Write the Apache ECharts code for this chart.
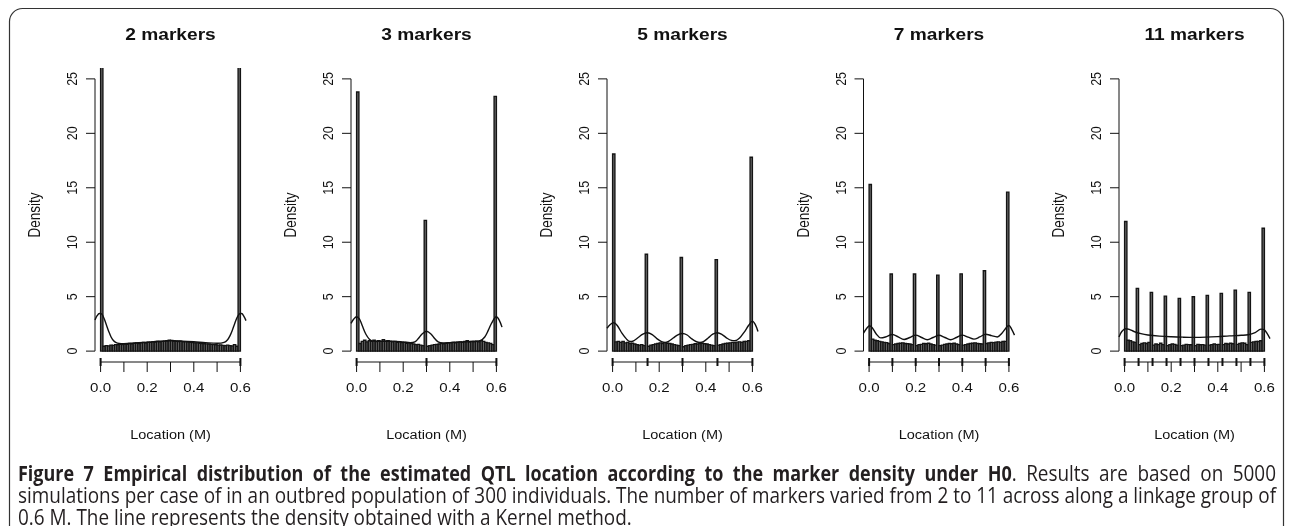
<!DOCTYPE html>
<html>
<head>
<meta charset="utf-8">
<script src="https://cdn.jsdelivr.net/npm/echarts@6/dist/echarts.min.js"></script>
<style>
  html, body { margin: 0; padding: 0; background: #fff; }
  #chart { width: 1292px; height: 526px; }
</style>
</head>
<body>
<div id="chart"></div>
<script>
// ---- panel titles and marker positions (M) ----
const panelTitles = ['2 markers', '3 markers', '5 markers', '7 markers', '11 markers'];
const markers2 = [0, 0.6];
const markers3 = [0, 0.3, 0.6];
const markers5 = [0, 0.15, 0.3, 0.45, 0.6];
const markers7 = [0, 0.1, 0.2, 0.3, 0.4, 0.5, 0.6];
const markers11 = [0, 0.06, 0.12, 0.18, 0.24, 0.3, 0.36, 0.42, 0.48, 0.54, 0.6];

// ---- axis ticks ----
const xTicks = [0, 0.1, 0.2, 0.3, 0.4, 0.5, 0.6];
const xTickLabels = ['0.0', '0.2', '0.4', '0.6'];
const xLabelPos = [0, 0.2, 0.4, 0.6];
const yTicks = [0, 5, 10, 15, 20, 25];

// ---- histogram densities, 60 bins of width 0.01 over [0, 0.6] ----
const binWidth = 0.01;
const hist2 = [28.3,
  0.45, 0.5, 0.48, 0.55, 0.52, 0.6, 0.58, 0.62, 0.6,
  0.65, 0.63, 0.7, 0.68, 0.72, 0.75, 0.7, 0.78, 0.8, 0.76,
  0.82, 0.8, 0.85, 0.83, 0.88, 0.86, 0.9, 0.92, 0.95, 1.0,
  0.98, 0.93, 0.9, 0.88, 0.9, 0.86, 0.85, 0.82, 0.8, 0.78,
  0.76, 0.75, 0.72, 0.7, 0.68, 0.66, 0.65, 0.62, 0.6, 0.58,
  0.55, 0.56, 0.52, 0.5, 0.55, 0.5, 0.48, 0.6, 0.45,
  28.1];
const hist3 = [23.8,
  0.7, 0.9, 1.0, 0.85, 0.95, 0.9, 1.0, 0.88, 0.95,
  0.9, 1.05, 0.92, 0.95, 0.9, 0.85, 0.9, 0.8, 0.85, 0.78,
  0.8, 0.72, 0.75, 0.7, 0.65, 0.6, 0.62, 0.55, 0.5,
  12.0,
  0.45, 0.5, 0.55, 0.6, 0.62, 0.65, 0.7, 0.68, 0.72, 0.75,
  0.78, 0.8, 0.76, 0.82, 0.85, 0.8, 0.88, 0.95, 0.85, 0.9,
  0.88, 0.92, 0.85, 0.95, 0.9, 0.8, 0.75, 0.7, 0.6,
  23.4];
const hist5 = [18.1,
  0.85, 0.9, 0.8, 0.88, 0.75, 0.8, 0.7, 0.72, 0.65, 0.6, 0.55, 0.6, 0.5,
  8.9,
  0.45, 0.55, 0.6, 0.65, 0.7, 0.75, 0.7, 0.78, 0.72, 0.7, 0.65, 0.6, 0.55, 0.5,
  8.6,
  0.4, 0.5, 0.55, 0.6, 0.62, 0.68, 0.65, 0.7, 0.72, 0.68, 0.65, 0.6, 0.55, 0.5,
  8.4,
  0.55, 0.6, 0.65, 0.7, 0.72, 0.75, 0.8, 0.78, 0.82, 0.85, 0.8, 0.88, 0.9, 0.95,
  17.8];
const hist7 = [15.3,
  1.1, 1.0, 0.95, 0.9, 0.85, 0.8, 0.78, 0.7,
  7.08,
  0.6, 0.65, 0.7, 0.72, 0.75, 0.7, 0.68, 0.65, 0.6,
  7.08,
  0.5, 0.6, 0.62, 0.7, 0.68, 0.72, 0.65, 0.6, 0.55,
  6.98,
  0.5, 0.55, 0.62, 0.65, 0.7, 0.68, 0.72, 0.65, 0.6,
  7.1,
  0.55, 0.6, 0.65, 0.7, 0.72, 0.75, 0.7, 0.68, 0.65,
  7.38,
  0.7, 0.75, 0.8, 0.78, 0.82, 0.85, 0.8, 0.88, 0.9,
  14.6];
const hist11 = [11.9,
  1.0, 0.95, 0.85, 0.8,
  5.76,
  0.6, 0.7, 0.75, 0.7, 0.8,
  5.39,
  0.55, 0.65, 0.6, 0.72, 0.6,
  5.05,
  0.5, 0.6, 0.65, 0.62, 0.55,
  4.84,
  0.5, 0.55, 0.62, 0.6, 0.58,
  4.99,
  0.5, 0.62, 0.58, 0.6, 0.55,
  5.12,
  0.55, 0.6, 0.65, 0.6, 0.62,
  5.3,
  0.6, 0.7, 0.65, 0.72, 0.68,
  5.6,
  0.62, 0.7, 0.75, 0.72, 0.6,
  5.39,
  0.8, 0.85, 0.9, 0.88, 0.95,
  11.28];

// ---- kernel density curves, [location, density] ----
const dens2 = [[-0.024, 2.85], [-0.015, 3.25], [-0.005, 3.45], [0.005, 3.4], [0.015, 3.0], [0.025, 2.4],
  [0.035, 1.8], [0.045, 1.3], [0.055, 0.98], [0.065, 0.8], [0.08, 0.7], [0.1, 0.68], [0.15, 0.74],
  [0.2, 0.82], [0.25, 0.9], [0.3, 0.95], [0.35, 0.92], [0.4, 0.86], [0.45, 0.78], [0.5, 0.72],
  [0.53, 0.8], [0.545, 1.05], [0.555, 1.4], [0.565, 1.9], [0.575, 2.5], [0.585, 3.05], [0.595, 3.4],
  [0.605, 3.45], [0.615, 3.2], [0.624, 2.8]];
const dens3 = [[-0.024, 2.55], [-0.012, 2.95], [0, 3.15], [0.012, 2.95], [0.025, 2.3], [0.04, 1.55],
  [0.055, 1.1], [0.07, 0.92], [0.1, 0.9], [0.15, 0.92], [0.2, 0.85], [0.23, 0.78], [0.25, 0.85],
  [0.265, 1.15], [0.28, 1.55], [0.3, 1.82], [0.32, 1.55], [0.335, 1.15], [0.35, 0.85], [0.37, 0.75],
  [0.4, 0.78], [0.45, 0.85], [0.5, 0.88], [0.53, 0.95], [0.55, 1.3], [0.565, 1.9], [0.58, 2.6],
  [0.6, 3.15], [0.612, 2.85], [0.624, 2.2]];
const dens5 = [[-0.024, 2.1], [-0.01, 2.45], [0.005, 2.6], [0.02, 2.35], [0.04, 1.65], [0.06, 1.1],
  [0.075, 0.88], [0.09, 0.95], [0.11, 1.25], [0.13, 1.55], [0.15, 1.68], [0.17, 1.52], [0.19, 1.15],
  [0.21, 0.88], [0.225, 0.8], [0.24, 0.9], [0.26, 1.2], [0.28, 1.5], [0.3, 1.62], [0.32, 1.48],
  [0.34, 1.12], [0.36, 0.86], [0.375, 0.8], [0.39, 0.88], [0.41, 1.2], [0.43, 1.55], [0.45, 1.68],
  [0.47, 1.52], [0.49, 1.2], [0.51, 0.98], [0.525, 0.95], [0.545, 1.2], [0.565, 1.75], [0.585, 2.4],
  [0.6, 2.75], [0.612, 2.45], [0.624, 1.8]];
const dens7 = [[-0.024, 1.65], [-0.01, 2.1], [0.002, 2.33], [0.015, 2.1], [0.03, 1.6], [0.05, 1.22],
  [0.07, 1.3], [0.1, 1.53], [0.125, 1.3], [0.15, 1.07], [0.175, 1.25], [0.2, 1.47], [0.225, 1.25],
  [0.25, 1.05], [0.275, 1.25], [0.3, 1.45], [0.325, 1.25], [0.35, 1.05], [0.375, 1.25], [0.4, 1.47],
  [0.425, 1.28], [0.45, 1.1], [0.475, 1.3], [0.5, 1.55], [0.525, 1.42], [0.55, 1.3], [0.57, 1.65],
  [0.59, 2.2], [0.6, 2.35], [0.612, 2.0], [0.624, 1.47]];
const dens11 = [[-0.024, 1.3], [-0.012, 1.8], [0.005, 2.05], [0.02, 2.0], [0.04, 1.8], [0.07, 1.6],
  [0.1, 1.48], [0.15, 1.38], [0.2, 1.32], [0.25, 1.28], [0.3, 1.26], [0.35, 1.28], [0.4, 1.33],
  [0.45, 1.4], [0.5, 1.45], [0.53, 1.5], [0.56, 1.7], [0.585, 2.02], [0.6, 1.95], [0.612, 1.6],
  [0.624, 1.15]];

// ---- caption ----
const captionBold = 'Figure 7 Empirical distribution of the estimated QTL location according to the marker density under H0';
const captionTail = '. Results are based on 5000';
const captionLine2 = 'simulations per case of in an outbred population of 300 individuals. The number of markers varied from 2 to 11 across along a linkage group of';
const captionLine3 = '0.6 M. The line represents the density obtained with a Kernel method.';

const yLabel = 'Density';
const xLabel = 'Location (M)';

// ---- layout ----
const histSets = [hist2, hist3, hist5, hist7, hist11];
const densSets = [dens2, dens3, dens5, dens7, dens11];
const markerSets = [markers2, markers3, markers5, markers7, markers11];
const gridLefts = [95, 351, 607, 863.5, 1119];
const gridWidth = 151;
const gridTop = 68;
const gridHeight = 294;
const xMin = -0.024, xMax = 0.624;   // R style 4% range extension
const yMin = -1, yMax = 26;

const family = '"Liberation Sans", Arial, sans-serif';
const stretch = 1.16;                 // wide-set plot lettering
const ink = '#111';

function histRows(values) {
  return values.map((v, i) => [i * binWidth, (i + 1) * binWidth, v]);
}

function renderBin(params, api) {
  const x0 = api.value(0), x1 = api.value(1), h = api.value(2);
  const a = api.coord([x0, 0]);
  const b = api.coord([x1, h]);
  return {
    type: 'rect',
    shape: { x: a[0], y: b[1], width: b[0] - a[0], height: a[1] - b[1] },
    style: { fill: '#6a6a6a', stroke: '#141414', lineWidth: 1.35 }
  };
}

function axisRenderer(markers, title) {
  return function (params, api) {
    const kids = [];
    const line = (x1, y1, x2, y2, w) => kids.push({
      type: 'line', shape: { x1, y1, x2, y2 },
      style: { stroke: ink, lineWidth: w || 1 }
    });
    // horizontal text, widened; rotated text, widened across its height
    const text = (s, x, y, size, weight) => kids.push({
      type: 'text', x, y, scaleX: stretch,
      style: { text: s, fill: ink, font: (weight || 'normal') + ' ' + size + 'px ' + family, align: 'center', verticalAlign: 'middle' }
    });
    const vtext = (s, x, y, size) => kids.push({
      type: 'text', x, y, rotation: Math.PI / 2, scaleY: stretch,
      style: { text: s, fill: ink, font: size + 'px ' + family, align: 'center', verticalAlign: 'middle' }
    });
    // left axis, 0..25
    const xl = api.coord([xMin, 0])[0];
    const yb = api.coord([xMin, yTicks[0]])[1];
    const yt = api.coord([xMin, yTicks[yTicks.length - 1]])[1];
    line(xl, yb, xl, yt);
    yTicks.forEach(v => {
      const y = api.coord([xMin, v])[1];
      line(xl - 9, y, xl, y);
      vtext(String(v), xl - 22, y, 12.5);
    });
    vtext(yLabel, xl - 59, api.coord([xMin, 12.5])[1], 13.5);
    // bottom axis, 0..0.6
    const ya = api.coord([0, yMin])[1];
    const xs = api.coord([xTicks[0], yMin])[0];
    const xe = api.coord([xTicks[xTicks.length - 1], yMin])[0];
    line(xs, ya, xe, ya);
    xTicks.forEach(v => {
      const x = api.coord([v, yMin])[0];
      line(x, ya, x, ya + 10);
    });
    xLabelPos.forEach((v, i) => {
      const x = api.coord([v, yMin])[0];
      text(xTickLabels[i], x, ya + 26, 13);
    });
    // marker positions
    markers.forEach(m => {
      const x = api.coord([m, yMin])[0];
      line(x, ya - 4, x, ya + 4, 2);
    });
    text(xLabel, (xs + xe) / 2, ya + 74, 12.5);
    // panel heading
    const cx = (api.coord([xMin, 0])[0] + api.coord([xMax, 0])[0]) / 2;
    text(title, cx, 35, 16.5, 'bold');
    return { type: 'group', children: kids };
  };
}

const grids = [], xAxes = [], yAxes = [], series = [];
histSets.forEach((hist, i) => {
  grids.push({ left: gridLefts[i], top: gridTop, width: gridWidth, height: gridHeight });
  xAxes.push({ type: 'value', gridIndex: i, min: xMin, max: xMax, show: false });
  yAxes.push({ type: 'value', gridIndex: i, min: yMin, max: yMax, show: false });
  series.push({
    type: 'custom', xAxisIndex: i, yAxisIndex: i, clip: true, silent: true,
    renderItem: renderBin, data: histRows(hist), z: 2
  });
  series.push({
    type: 'line', xAxisIndex: i, yAxisIndex: i, data: densSets[i], showSymbol: false,
    smooth: 0.35, clip: true, silent: true,
    lineStyle: { color: ink, width: 1.4 }, z: 3
  });
  series.push({
    type: 'custom', xAxisIndex: i, yAxisIndex: i, clip: false, silent: true,
    renderItem: axisRenderer(markerSets[i], panelTitles[i]), data: [[0, 0]], z: 4
  });
});

// caption set in a condensed face, first line justified word by word
const capFontSize = 21;
const capFamily = '"Open Sans", "Liberation Sans", sans-serif';
const capColor = '#231f20';
const capLeft = 18, capRight = 1276;
const ctx = document.createElement('canvas').getContext('2d');
function measure(s, weight) {
  ctx.font = weight + ' ' + capFontSize + 'px ' + capFamily;
  return ctx.measureText(s).width;
}
function capRun(s, weight, x0, scale, y) {
  return {
    type: 'text', x: x0, y: y, scaleX: scale, silent: true,
    style: { text: s, font: weight + ' ' + capFontSize + 'px ' + capFamily, fill: capColor, verticalAlign: 'middle' }
  };
}
const textScale = (capRight - capLeft) / measure(captionLine2, 'normal');
const boldScale = textScale * 0.95;    // narrow bold cut

// words of line 1: bold heading words, then the regular sentence start
const boldWords = captionBold.split(' ');
const tailWords = captionTail.split(' ');            // ['.', 'Results', ...]
const words = boldWords.map(w => ({ s: w, weight: 'bold', sc: boldScale }));
words[words.length - 1].dot = measure(tailWords[0], 'normal') * textScale;
tailWords.slice(1).forEach(w => words.push({ s: w, weight: 'normal', sc: textScale }));
words.forEach(w => { w.width = measure(w.s, w.weight) * w.sc + (w.dot || 0); });
const wordGap = (capRight - capLeft - words.reduce((t, w) => t + w.width, 0)) / (words.length - 1);

const graphics = [
  {
    type: 'rect', silent: true,
    shape: { x: 9.5, y: 8.5, width: 1274, height: 532, r: 13 },
    style: { fill: 'none', stroke: '#333', lineWidth: 1.2 }
  },
  capRun(captionLine2, 'normal', capLeft, textScale, 497),
  capRun(captionLine3, 'normal', capLeft, textScale, 519)
];
let wx = capLeft;
words.forEach(w => {
  graphics.push(capRun(w.s, w.weight, wx, w.sc, 475));
  if (w.dot) {
    graphics.push(capRun(tailWords[0], 'normal', wx + w.width - w.dot, textScale, 475));
  }
  wx += w.width + wordGap;
});

const chart = echarts.init(document.getElementById('chart'), null, { renderer: 'canvas' });
chart.setOption({
  backgroundColor: '#fff',
  animation: false,
  grid: grids,
  xAxis: xAxes,
  yAxis: yAxes,
  series: series,
  graphic: graphics
});
</script>
</body>
</html>
